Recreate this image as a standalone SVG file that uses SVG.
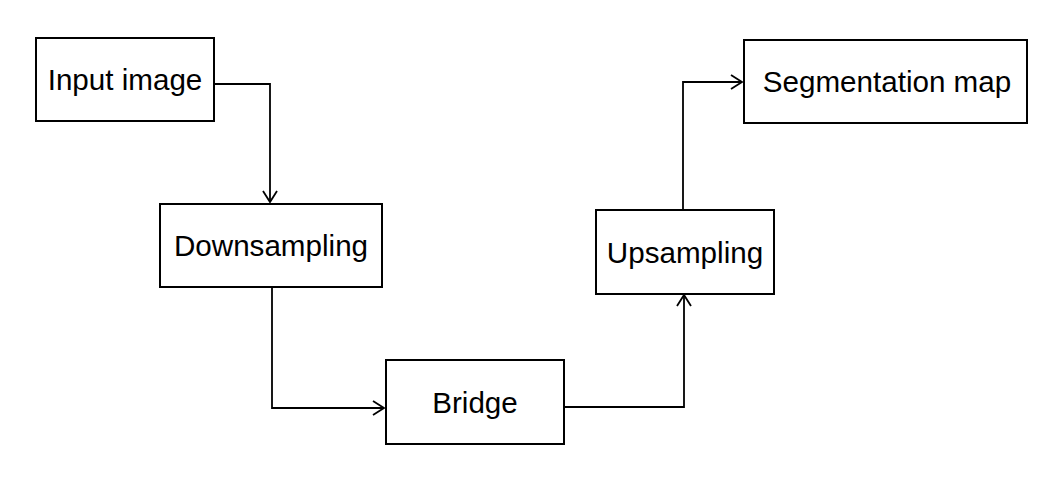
<svg xmlns="http://www.w3.org/2000/svg" width="1062" height="486" viewBox="0 0 1062 486">
<defs>
<marker id="arr" markerWidth="14" markerHeight="16" refX="12" refY="8" orient="auto" markerUnits="userSpaceOnUse">
<path d="M1,1 L12,8 L1,15" fill="none" stroke="#000" stroke-width="1.8"/>
</marker>
<style>
.box{fill:#fff;stroke:#000;stroke-width:2}
.lbl{font-family:"Liberation Sans",Arial,sans-serif;font-size:29.6px;fill:#000;text-anchor:middle}
.con{fill:none;stroke:#000;stroke-width:1.8;marker-end:url(#arr)}
</style>
</defs>
<rect width="1062" height="486" fill="#fff"/>
<g id="connectors">
<path class="con" d="M214,84 H270 V202"/>
<path class="con" d="M272,287 V408 H384"/>
<path class="con" d="M564,407 H684 V295"/>
<path class="con" d="M683,210 V82 H742"/>
</g>
<g id="input-image"><rect class="box" x="36" y="38" width="178" height="83"/><text class="lbl" x="125" y="90">Input image</text></g>
<g id="downsampling"><rect class="box" x="160" y="204" width="222" height="83"/><text class="lbl" x="271" y="256">Downsampling</text></g>
<g id="bridge"><rect class="box" x="386" y="360" width="178" height="84"/><text class="lbl" x="475" y="412.5">Bridge</text></g>
<g id="upsampling"><rect class="box" x="596" y="210" width="178" height="84"/><text class="lbl" x="685" y="262.5">Upsampling</text></g>
<g id="segmentation-map"><rect class="box" x="744" y="40" width="283" height="83"/><text class="lbl" x="887" y="92">Segmentation map</text></g>
</svg>
